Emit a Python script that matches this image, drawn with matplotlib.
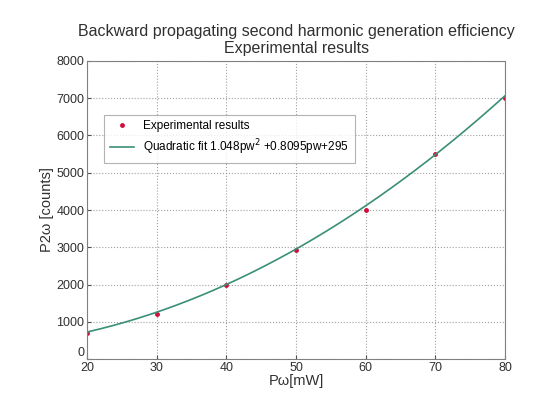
import numpy as np
import matplotlib
matplotlib.use("Agg")
import matplotlib.pyplot as plt

plt.rcParams['font.family'] = ['Liberation Sans', 'DejaVu Sans']

# measured points
power_mw = [20, 30, 40, 50, 60, 70, 80]
counts = [690, 1200, 2000, 2930, 4010, 5500, 7010]

# quadratic fit coefficients (from the legend)
fit_a, fit_b, fit_c = 1.048, 0.8095, 295

x_ticks = [20, 30, 40, 50, 60, 70, 80]
y_ticks = [0, 1000, 2000, 3000, 4000, 5000, 6000, 7000, 8000]

fig = plt.figure(figsize=(5.35, 3.93), dpi=100)
ax = fig.add_axes([0.163, 0.086, 0.781, 0.759])

xf = np.linspace(min(power_mw), max(power_mw), 200)
yf = fit_a * xf**2 + fit_b * xf + fit_c

ax.plot(power_mw, counts, '.', color='#d0103a', ms=5, label='Experimental results')
ax.plot(xf, yf, '-', color='#3a8f78', lw=1.2,
        label=r'Quadratic fit 1.048pw$^2$ +0.8095pw+295')

ax.set_xlim(20, 80)
ax.set_ylim(0, 8000)
ax.set_xticks(x_ticks)
ax.set_yticks(y_ticks)
ax.grid(True, linestyle=':', color='#a0a0a0', lw=0.8)
for s in ax.spines.values():
    s.set_color('#808080')
ax.tick_params(labelsize=9, colors='#505050', direction='in', length=3, pad=2)
for lab in ax.get_xticklabels() + ax.get_yticklabels():
    lab.set_color('#303030')
# lift the "0" a little so it sits above the "20"
ax.get_yticklabels()[0].set_verticalalignment('bottom')

ax.set_xlabel('P\u03c9[mW]', fontsize=10.5, labelpad=0, color='#303030')
ax.set_ylabel('P2\u03c9 [counts]', fontsize=10.5, labelpad=2, color='#303030')
ax.set_title('Backward propagating second harmonic generation efficiency\nExperimental results',
             fontsize=11.5, color='#303030', linespacing=1.1, pad=6)

leg = ax.legend(loc='upper left', bbox_to_anchor=(0.027, 0.84), fontsize=8.5,
                frameon=True, fancybox=False, edgecolor='#a0a0a0',
                handlelength=2.0, borderpad=0.5, labelspacing=0.4)
leg.get_frame().set_linewidth(0.8)

fig.savefig('out.png', dpi=100)
